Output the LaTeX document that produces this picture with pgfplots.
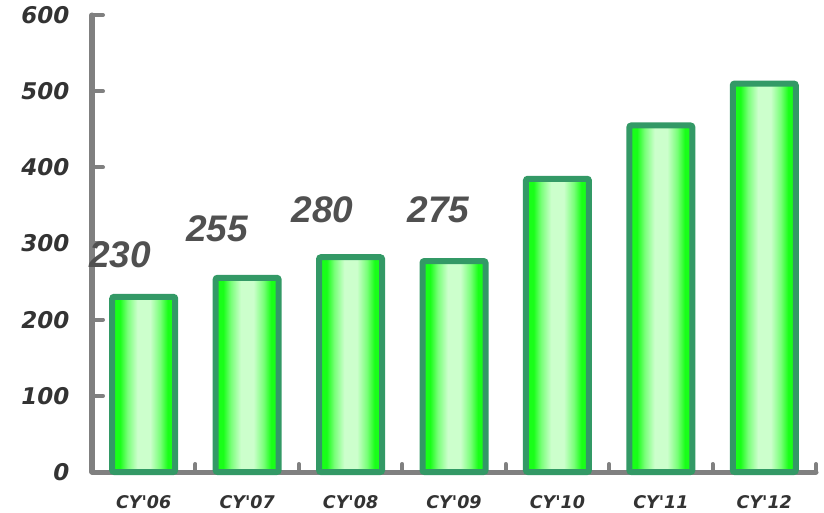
\documentclass[border=0pt]{standalone}
\usepackage{fontspec}
\setmainfont{DejaVu Sans}[ItalicFont={DejaVu Sans Oblique},BoldFont={DejaVu Sans Bold},BoldItalicFont={DejaVu Sans Bold Oblique}]
\newfontfamily\labfont{Liberation Sans}
\usepackage{pgfplots}
\pgfplotsset{compat=1.18}
\definecolor{barline}{RGB}{51,153,102}
\definecolor{bargreen}{RGB}{25,255,25}
\definecolor{barmid}{RGB}{120,255,120}
\definecolor{barlight}{RGB}{204,255,204}
\definecolor{axgray}{RGB}{128,128,128}
\definecolor{ticktext}{RGB}{51,51,51}
\definecolor{labgray}{RGB}{80,80,80}
\pgfdeclarehorizontalshading{barshade}{100bp}{color(0bp)=(bargreen); color(31bp)=(bargreen); color(37bp)=(barmid); color(45bp)=(barlight); color(55bp)=(barlight); color(63bp)=(barmid); color(69bp)=(bargreen); color(100bp)=(bargreen)}
\pgfplotsset{greenbar/.style={ybar, bar width=63pt, draw=barline, line width=6pt, rounded corners=2pt, shading=barshade}}
\begin{document}
\begin{tikzpicture}
\begin{axis}[
  name=ax,
  scale only axis,
  width=724pt, height=457pt,
  xmin=-0.5, xmax=6.5,
  ymin=0, ymax=600,
  axis lines=left,
  axis line style={-, axgray, line width=5pt, line cap=round},
  xtick={0,...,6},
  xticklabels={CY\textquotesingle06,CY\textquotesingle07,CY\textquotesingle08,CY\textquotesingle09,CY\textquotesingle10,CY\textquotesingle11,CY\textquotesingle12},
  major x tick style={draw=none},
  minor xtick={0.5,1.5,...,6.5},
  minor tick length=8pt,
  minor x tick style={axgray, line width=4pt, line cap=round},
  ytick={0,100,...,600},
  major tick length=11pt,
  y tick style={axgray, line width=4pt, line cap=round},
  tick align=inside,
  /pgf/number format/assume math mode=true,
  yticklabel style={font=\bfseries\itshape\fontsize{23}{23}\selectfont, text=ticktext, xshift=-19pt},
  xticklabel style={font=\bfseries\itshape\fontsize{17.5}{17.5}\selectfont, text=ticktext, yshift=-20pt},
  clip=false,
]
\addplot[greenbar] coordinates {(0,230)};
\addplot[greenbar] coordinates {(1,255)};
\addplot[greenbar] coordinates {(2,282)};
\addplot[greenbar] coordinates {(3,277)};
\addplot[greenbar] coordinates {(4,385)};
\addplot[greenbar] coordinates {(5,455)};
\addplot[greenbar] coordinates {(6,510)};
\node[font=\labfont\bfseries\itshape\fontsize{37}{37}\selectfont, text=labgray] at (axis cs:-0.23,285) {230};
\node[font=\labfont\bfseries\itshape\fontsize{37}{37}\selectfont, text=labgray] at (axis cs:0.71,320) {255};
\node[font=\labfont\bfseries\itshape\fontsize{37}{37}\selectfont, text=labgray] at (axis cs:1.73,344) {280};
\node[font=\labfont\bfseries\itshape\fontsize{37}{37}\selectfont, text=labgray] at (axis cs:2.85,344) {275};
\end{axis}
\path[use as bounding box] ([xshift=-92pt,yshift=-40pt]ax.south west) rectangle ([xshift=8pt,yshift=15pt]ax.north east);
\end{tikzpicture}
\end{document}
